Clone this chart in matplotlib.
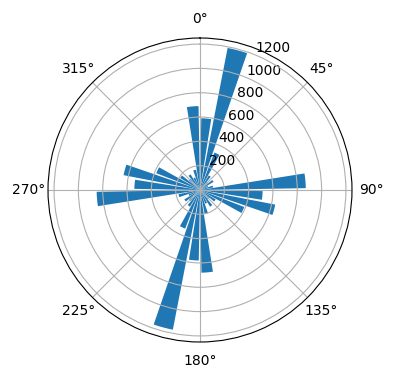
import numpy as np
import matplotlib
matplotlib.use("Agg")
import matplotlib.pyplot as plt

# bin centres in degrees, clockwise from north
bin_deg = [5, 15, 25, 35, 45, 55, 65, 75, 85, 95, 105, 115,
           125, 135, 145, 155, 165, 175, 185, 195, 205, 215, 225, 235,
           245, 255, 265, 275, 285, 295, 305, 315, 325, 335, 345, 355]
counts = [590, 1190, 330, 140, 90, 130, 70, 110, 870, 515, 630, 390,
          150, 100, 160, 120, 200, 680, 580, 1170, 340, 160, 120, 150,
          100, 180, 850, 540, 640, 385, 190, 120, 150, 110, 170, 690]

theta = np.deg2rad(bin_deg)
width = np.deg2rad(8)

fig = plt.figure(figsize=(3.96, 3.8), dpi=100)
ax = fig.add_axes([0.1212, 0.1, 0.7677, 0.8], projection='polar')
ax.set_theta_zero_location('N')
ax.set_theta_direction(-1)
ax.bar(theta, counts, width=width, color='#1f77b4')
ax.set_ylim(0, 1250)

fig.savefig('out.png', dpi=100)
